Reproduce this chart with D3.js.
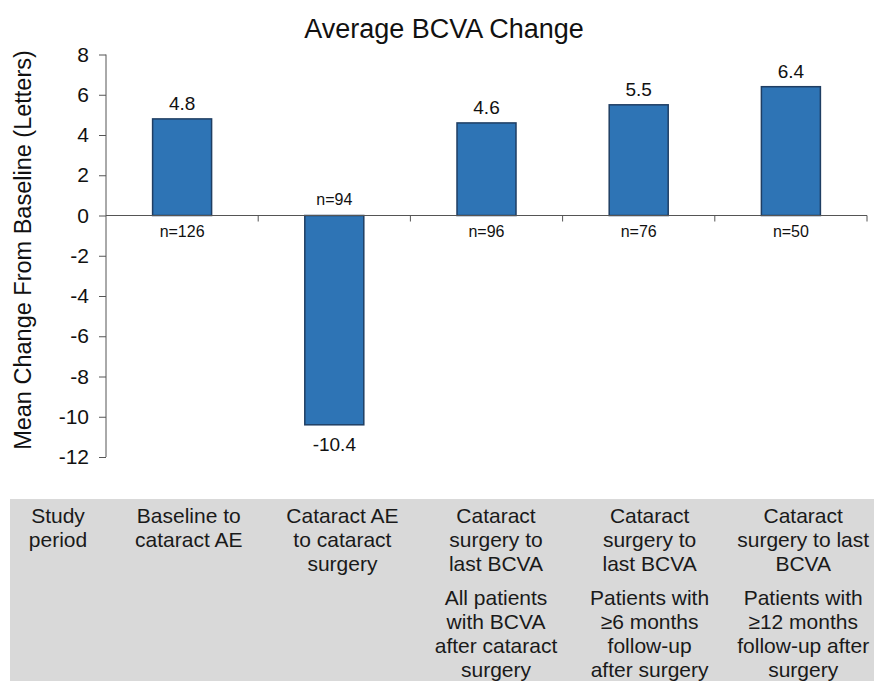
<!DOCTYPE html>
<html>
<head>
<meta charset="utf-8">
<script src="https://cdn.jsdelivr.net/npm/d3@7"></script>
<style>
  body { margin: 0; background: #fff; }
  svg text { font-family: Arial, "Liberation Sans", sans-serif; }
</style>
</head>
<body>
<div id="chart"></div>
<script>
// chart data
var categories = ["Baseline to cataract AE", "Cataract AE to cataract surgery",
                  "Surgery to last BCVA (all)", "Surgery to last BCVA (>=6 mo)", "Surgery to last BCVA (>=12 mo)"];
var values = [4.8, -10.4, 4.6, 5.5, 6.4];
var nCounts = [126, 94, 96, 76, 50];
var yTicks = [8, 6, 4, 2, 0, -2, -4, -6, -8, -10, -12];

// table under the chart
var rowHeader = ["Study", "period"];
var periodLines = [
  ["Baseline to", "cataract AE"],
  ["Cataract AE", "to cataract", "surgery"],
  ["Cataract", "surgery to", "last BCVA"],
  ["Cataract", "surgery to", "last BCVA"],
  ["Cataract", "surgery to last", "BCVA"]
];
var populationLines = [
  [],
  [],
  ["All patients", "with BCVA", "after cataract", "surgery"],
  ["Patients with", "\u22656 months", "follow-up", "after surgery"],
  ["Patients with", "\u226512 months", "follow-up after", "surgery"]
];

var width = 874, height = 681;

var svg = d3.select("#chart").append("svg")
    .attr("width", width)
    .attr("height", height);

var x = d3.scaleBand()
    .domain(categories)
    .range([106, 867]);

var y = d3.scaleLinear()
    .domain([-12, 8])
    .range([457, 54.5]);

var barW = 59;

// title
svg.append("text")
    .attr("x", 444)
    .attr("y", 38)
    .attr("text-anchor", "middle")
    .attr("font-size", 27)
    .attr("fill", "#111")
    .text("Average BCVA Change");

// y axis
var yAxis = svg.append("g")
    .attr("transform", "translate(106,0)")
    .call(d3.axisLeft(y).tickValues(yTicks).tickSize(7).tickPadding(10).tickFormat(d3.format("d")));
yAxis.select(".domain").attr("stroke", "#555").attr("d", "M0," + y(8) + "V" + y(-12));
yAxis.selectAll(".tick line").attr("stroke", "#555");
yAxis.selectAll(".tick text")
    .attr("font-size", 21)
    .attr("fill", "#111")
    .attr("font-family", "Arial, 'Liberation Sans', sans-serif")
    .text(function(d) { return d < 0 ? "-" + Math.abs(d) : d; });

svg.append("text")
    .attr("transform", "translate(31," + 250 + ")rotate(-90)")
    .attr("text-anchor", "middle")
    .attr("font-size", 23.5)
    .attr("fill", "#111")
    .text("Mean Change From Baseline (Letters)");

// bars
svg.selectAll("rect.bar")
    .data(values)
  .enter().append("rect")
    .attr("class", "bar")
    .attr("x", function(d, i) { return x(categories[i]) + x.bandwidth() / 2 - barW / 2; })
    .attr("y", function(d) { return y(Math.max(0, d)); })
    .attr("width", barW)
    .attr("height", function(d) { return Math.abs(y(d) - y(0)); })
    .attr("fill", "#2e74b5")
    .attr("stroke", "#1f3e63")
    .attr("stroke-width", 1.5);

// x axis at zero
var xAxisG = svg.append("g").attr("transform", "translate(0," + y(0) + ")");
xAxisG.append("line")
    .attr("x1", 106).attr("x2", 867)
    .attr("stroke", "#555");
xAxisG.selectAll("line.tk")
    .data(categories)
  .enter().append("line")
    .attr("class", "tk")
    .attr("x1", function(d) { return x(d) + x.bandwidth(); })
    .attr("x2", function(d) { return x(d) + x.bandwidth(); })
    .attr("y1", 0).attr("y2", 6)
    .attr("stroke", "#555");

// value labels
svg.selectAll("text.val")
    .data(values)
  .enter().append("text")
    .attr("class", "val")
    .attr("x", function(d, i) { return x(categories[i]) + x.bandwidth() / 2; })
    .attr("y", function(d) { return d >= 0 ? y(d) - 9 : y(d) + 26; })
    .attr("text-anchor", "middle")
    .attr("font-size", 19)
    .attr("fill", "#111")
    .text(function(d) { return d < 0 ? "-" + Math.abs(d) : d; });

// n labels
svg.selectAll("text.n")
    .data(nCounts)
  .enter().append("text")
    .attr("class", "n")
    .attr("x", function(d, i) { return x(categories[i]) + x.bandwidth() / 2; })
    .attr("y", function(d, i) { return values[i] >= 0 ? y(0) + 21 : y(0) - 11; })
    .attr("text-anchor", "middle")
    .attr("font-size", 16)
    .attr("fill", "#111")
    .text(function(d) { return "n=" + d; });

// table
var tx = d3.scaleBand()
    .domain(categories)
    .range([112, 880]);

svg.append("rect")
    .attr("x", 10).attr("y", 499)
    .attr("width", width - 10).attr("height", height - 499)
    .attr("fill", "#d9d9d9");

var lineH = 24;

svg.append("text")
    .attr("x", 58).attr("y", 523)
    .attr("text-anchor", "middle")
    .attr("font-size", 21)
    .attr("fill", "#1a1a1a")
  .selectAll("tspan")
    .data(rowHeader)
  .enter().append("tspan")
    .attr("x", 58)
    .attr("dy", function(d, i) { return i ? lineH : 0; })
    .text(function(d) { return d; });

function block(lines, top) {
  svg.selectAll(null)
      .data(lines)
    .enter().append("text")
      .attr("x", function(d, i) { return tx(categories[i]) + tx.bandwidth() / 2; })
      .attr("y", top)
      .attr("text-anchor", "middle")
      .attr("font-size", 21)
      .attr("fill", "#1a1a1a")
    .each(function(d) {
      var t = d3.select(this), cx = t.attr("x");
      d.forEach(function(s, j) {
        t.append("tspan").attr("x", cx).attr("dy", j ? lineH : 0).text(s);
      });
    });
}
block(periodLines, 523);
block(populationLines, 605);
</script>
</body>
</html>
